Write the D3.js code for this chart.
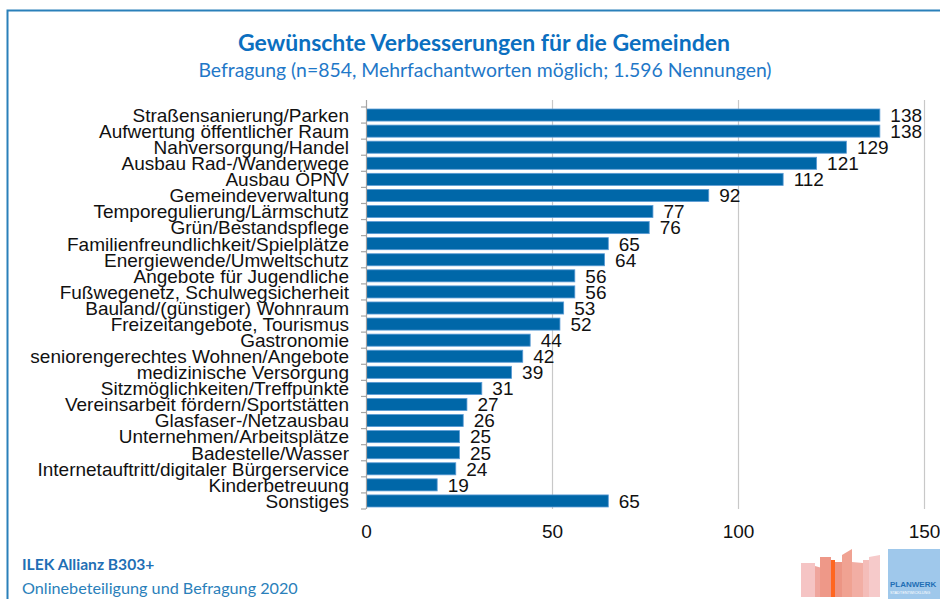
<!DOCTYPE html>
<html>
<head>
<meta charset="utf-8">
<title>Gewünschte Verbesserungen</title>
<style>
  body { margin: 0; background: #fff; }
  svg { display: block; }
  .cat { font-family: "Liberation Sans", Arial, sans-serif; font-size: 19px; fill: #111; }
  .val { font-family: "Liberation Sans", Arial, sans-serif; font-size: 19px; fill: #111; }
  .xt text { font-family: "Liberation Sans", Arial, sans-serif; font-size: 19px; fill: #111; }
</style>
</head>
<body>
<script src="https://cdn.jsdelivr.net/npm/d3@7"></script>
<script>
var categories = [
  "Straßensanierung/Parken", "Aufwertung öffentlicher Raum", "Nahversorgung/Handel",
  "Ausbau Rad-/Wanderwege", "Ausbau ÖPNV", "Gemeindeverwaltung",
  "Temporegulierung/Lärmschutz", "Grün/Bestandspflege", "Familienfreundlichkeit/Spielplätze",
  "Energiewende/Umweltschutz", "Angebote für Jugendliche", "Fußwegenetz, Schulwegsicherheit",
  "Bauland/(günstiger) Wohnraum", "Freizeitangebote, Tourismus", "Gastronomie",
  "seniorengerechtes Wohnen/Angebote", "medizinische Versorgung", "Sitzmöglichkeiten/Treffpunkte",
  "Vereinsarbeit fördern/Sportstätten", "Glasfaser-/Netzausbau", "Unternehmen/Arbeitsplätze",
  "Badestelle/Wasser", "Internetauftritt/digitaler Bürgerservice", "Kinderbetreuung", "Sonstiges"
];
var values = [138, 138, 129, 121, 112, 92, 77, 76, 65, 64, 56, 56, 53, 52, 44, 42, 39, 31, 27, 26, 25, 25, 24, 19, 65];
var xTicks = [0, 50, 100, 150];

var title = "Gewünschte Verbesserungen für die Gemeinden";
var subtitle = "Befragung (n=854, Mehrfachantworten möglich; 1.596 Nennungen)";
var footer1 = "ILEK Allianz B303+";
var footer2 = "Onlinebeteiligung und Befragung 2020";

var W = 940, H = 599;
var svg = d3.select("body").append("svg").attr("width", W).attr("height", H);

// frame lines
svg.append("path")
  .attr("d", "M7.5,599 V10.5 H940")
  .attr("fill", "none").attr("stroke", "#2A80BA").attr("stroke-width", 2);

var x = d3.scaleLinear().domain([0, 150]).range([366, 924]);
var y = d3.scaleBand().domain(categories).range([107, 509]).paddingInner(0.25).paddingOuter(0.125);

// gridlines
svg.append("g").selectAll("line").data(xTicks.slice(1)).enter().append("line")
  .attr("x1", function(d) { return x(d) + 0.5; }).attr("x2", function(d) { return x(d) + 0.5; })
  .attr("y1", 100).attr("y2", 509)
  .attr("stroke", "#C8C8C8").attr("stroke-width", 1.2);

// bars
svg.append("g").selectAll("rect").data(values).enter().append("rect")
  .attr("x", x(0) + 0.5)
  .attr("y", function(d, i) { return y(categories[i]); })
  .attr("width", function(d) { return x(d) - x(0); })
  .attr("height", y.bandwidth())
  .attr("fill", "#0067A8")
  .attr("stroke", "#5B9BD5").attr("stroke-width", 0.8);

// y axis line + outward ticks at band boundaries
svg.append("line")
  .attr("x1", x(0) + 0.5).attr("x2", x(0) + 0.5).attr("y1", 100).attr("y2", 509)
  .attr("stroke", "#A6A6A6").attr("stroke-width", 1.2);
var bounds = d3.range(categories.length + 1).map(function(i) { return y.range()[0] + i * y.step(); });
svg.append("g").selectAll("line").data(bounds).enter().append("line")
  .attr("x1", x(0) - 5).attr("x2", x(0))
  .attr("y1", function(d) { return d; }).attr("y2", function(d) { return d; })
  .attr("stroke", "#A6A6A6").attr("stroke-width", 1.2);

// category labels
svg.append("g").selectAll("text").data(categories).enter().append("text")
  .attr("class", "cat")
  .attr("x", 349)
  .attr("y", function(d) { return y(d) + y.bandwidth() / 2; })
  .attr("dy", "0.36em")
  .attr("text-anchor", "end")
  .text(function(d) { return d; });

// value labels
svg.append("g").selectAll("text").data(values).enter().append("text")
  .attr("class", "val")
  .attr("x", function(d) { return x(d) + 11; })
  .attr("y", function(d, i) { return y(categories[i]) + y.bandwidth() / 2; })
  .attr("dy", "0.36em")
  .text(function(d) { return d; });

// x axis labels
var xAxis = d3.axisBottom(x).tickValues(xTicks).tickSize(0).tickPadding(16);
var gx = svg.append("g").attr("class", "xt").attr("transform", "translate(0,509)").call(xAxis);
gx.select(".domain").remove();

// titles
svg.append("text").attr("x", 484).attr("y", 51).attr("text-anchor", "middle")
  .style("font-family", "Lato, 'Open Sans', sans-serif").style("font-weight", "bold")
  .style("font-size", "23px").attr("fill", "#0B6FC0").text(title);
svg.append("text").attr("x", 485).attr("y", 77).attr("text-anchor", "middle")
  .style("font-family", "Lato, 'Open Sans', sans-serif")
  .style("font-size", "19.4px").attr("fill", "#1F78C8").text(subtitle);

// footer
svg.append("text").attr("x", 22).attr("y", 570)
  .style("font-family", "Lato, 'Open Sans', sans-serif").style("font-weight", "bold")
  .style("font-size", "15.6px").attr("fill", "#1F6FB5").text(footer1);
svg.append("text").attr("x", 22).attr("y", 594)
  .style("font-family", "Lato, 'Open Sans', sans-serif")
  .style("font-size", "16.2px").attr("fill", "#2A80BA").text(footer2);

// logo (decoration)
var logo = svg.append("g");
var blocks = [
  [801, 815, 563, 563, "#F5C4C4"], [815, 822, 566, 568, "#EFA59D"], [820, 831, 557, 557, "#EE9888"],
  [831, 835, 560, 560, "#FF6620"], [835, 842, 562, 562, "#EC9584"], [842, 852, 555, 549, "#F0A292"],
  [852, 863, 562, 563, "#F2AEA4"], [863, 869, 560, 560, "#F4BDB9"], [869, 880, 557, 555, "#F6CACA"]
];
logo.selectAll("path").data(blocks).enter().append("path")
  .attr("d", function(b) { return "M" + b[0] + ",597 V" + b[2] + " L" + b[1] + "," + b[3] + " V597 Z"; })
  .attr("fill", function(b) { return b[4]; });
logo.append("rect").attr("x", 888).attr("y", 549).attr("width", 52).attr("height", 50).attr("fill", "#9FC8EB");
logo.append("text").attr("x", 890).attr("y", 587)
  .style("font-family", "'Liberation Sans', Arial, sans-serif").style("font-weight", "bold")
  .style("font-size", "8px").attr("fill", "#1F6FB5").text("PLANWERK");
logo.append("text").attr("x", 890).attr("y", 594)
  .style("font-family", "'Liberation Sans', Arial, sans-serif")
  .style("font-size", "3.8px").attr("fill", "#fff").text("STADTENTWICKLUNG");
</script>
</body>
</html>
